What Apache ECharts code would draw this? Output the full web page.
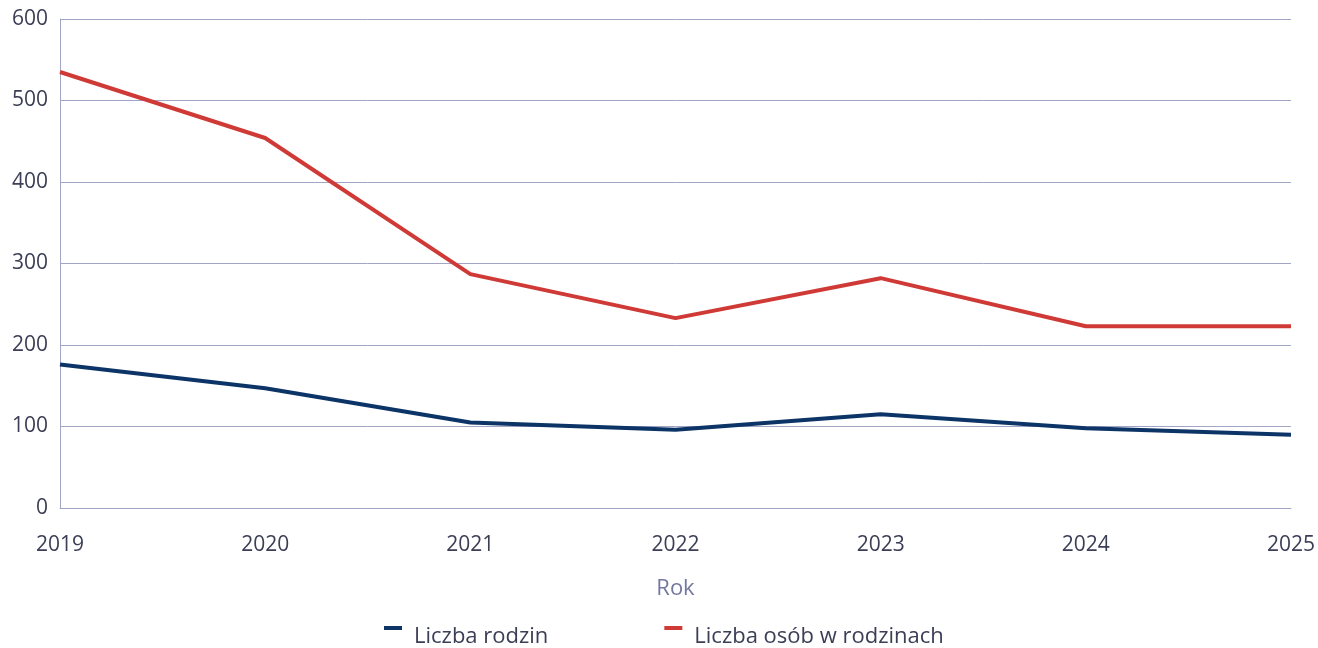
<!DOCTYPE html>
<html>
<head>
<meta charset="utf-8">
<script src="https://cdn.jsdelivr.net/npm/echarts@6/dist/echarts.min.js"></script>
<style>
  html, body { margin: 0; padding: 0; background: #fff; }
  #chart { width: 1318px; height: 648px; }
</style>
</head>
<body>
<div id="chart"></div>
<script>
const years = ["2019", "2020", "2021", "2022", "2023", "2024", "2025"];
const families = [176, 147, 105, 96, 115, 98, 90];
const persons = [535, 454, 287, 233, 282, 223, 223];

const axisColor = "#a3a5c6";
const textColor = "#3b3e55";

const chart = echarts.init(document.getElementById("chart"));
chart.setOption({
  backgroundColor: "#fff",
  textStyle: { fontFamily: "Open Sans" },
  grid: { left: 60, right: 27, top: 19, bottom: 140 },
  legend: {
    top: 626,
    left: 384,
    padding: 0,
    // marker sits above the text centre, so pad the icon downwards
    icon: "path://M0,0H18V4H0Z M0,22L0,22Z",
    itemWidth: 18,
    itemHeight: 22,
    itemGap: 116,
    textStyle: { fontSize: 22, color: textColor, padding: [0, 0, 0, 7] },
    data: ["Liczba rodzin", "Liczba osób w rodzinach"]
  },
  xAxis: {
    type: "category",
    data: years,
    boundaryGap: false,
    name: "Rok",
    nameLocation: "middle",
    nameGap: 70,
    nameTextStyle: { fontSize: 22, color: "#7478a0" },
    axisLine: { show: true, lineStyle: { color: axisColor, width: 1 } },
    axisTick: { show: false },
    axisLabel: { fontSize: 21, color: textColor, margin: 27 }
  },
  yAxis: {
    type: "value",
    min: 0,
    max: 600,
    interval: 100,
    axisLine: { show: true, lineStyle: { color: axisColor, width: 1 } },
    axisTick: { show: false },
    splitLine: { lineStyle: { color: axisColor, width: 1 } },
    axisLabel: { fontSize: 21, color: textColor, margin: 12 }
  },
  series: [
    {
      name: "Liczba rodzin",
      type: "line",
      data: families,
      symbol: "none",
      color: "#0c3466",
      lineStyle: { width: 4, color: "#0c3466" }
    },
    {
      name: "Liczba osób w rodzinach",
      type: "line",
      data: persons,
      symbol: "none",
      color: "#cf3a36",
      lineStyle: { width: 4, color: "#cf3a36" }
    }
  ]
});
</script>
</body>
</html>
